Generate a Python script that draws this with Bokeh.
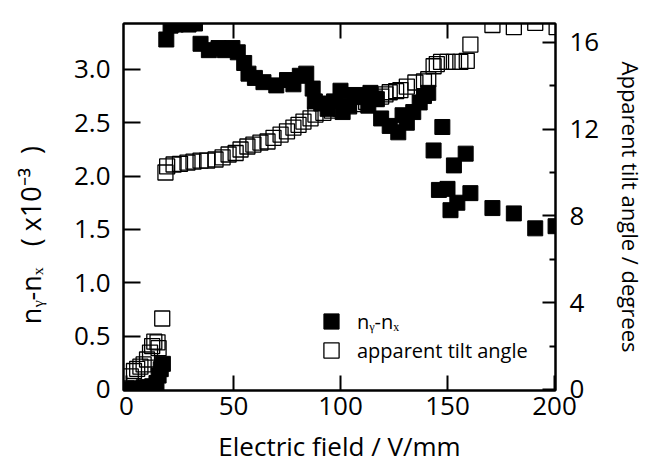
from bokeh.plotting import figure
from bokeh.models import LinearAxis, Range1d, FixedTicker, Legend, LegendItem
from bokeh.embed import file_html
from bokeh.resources import INLINE

# n_y - n_x (x10^-3) vs electric field (V/mm)
field_dn = [0, 2, 4, 6, 8, 10, 12, 14, 15, 16, 17,
            18.6, 20.6, 23, 26.6, 29, 32, 34.6, 38.5, 43, 46, 49.5, 52, 55, 57, 60,
            64, 70, 75, 78, 81, 84, 87, 88, 91, 94, 97, 100, 101, 104, 107, 110,
            113, 114, 117, 119, 123, 127, 129, 131, 134, 137, 139, 141, 143.5,
            147.6, 146, 150, 151.4, 153, 154.6, 158.5, 160.7, 171, 181, 191, 200.5]
dn = [0.0, 0.0, 0.01, 0.0, 0.02, 0.02, 0.03, 0.06, 0.13, 0.19, 0.24,
      3.28, 3.41, 3.42, 3.43, 3.42, 3.43, 3.24, 3.18, 3.2, 3.18, 3.2, 3.16, 3.06, 2.96, 2.92,
      2.88, 2.85, 2.9, 2.86, 2.94, 2.96, 2.82, 2.7, 2.68, 2.63, 2.7, 2.8, 2.6, 2.66, 2.76, 2.74,
      2.66, 2.78, 2.72, 2.54, 2.47, 2.41, 2.57, 2.5, 2.6, 2.69, 2.75, 2.78, 2.24,
      2.46, 1.87, 1.88, 1.68, 2.1, 1.75, 2.21, 1.84, 1.7, 1.65, 1.51, 1.53]

# apparent tilt angle (degrees) vs electric field (V/mm)
field_tilt = [0, 2, 3.5, 5, 6.5, 8, 9.6, 11, 12, 13, 14.5, 15, 16.7,
              18.2, 19, 22, 25, 28.5, 31.3, 34.6, 37.7, 41.6, 44.9, 47.7, 51, 53.3,
              56.5, 59.3, 62.6, 65.9, 68.7, 72, 75, 78, 80.4, 82.7, 86, 88.3, 92, 96,
              100, 104, 108, 112, 116, 119, 121, 123, 126, 128, 131, 135, 139, 141,
              143.5, 145, 147, 150, 153, 156, 159, 160.7, 171, 181, 191, 201]
tilt = [0.05, 0.6, 0.85, 0.95, 1.05, 1.15, 1.38, 1.7, 2.0, 2.2, 2.17, 1.9, 3.27,
        10.0, 10.28, 10.37, 10.4, 10.46, 10.5, 10.55, 10.55, 10.6, 10.7, 10.83, 10.9, 11.06,
        11.2, 11.29, 11.38, 11.43, 11.6, 11.75, 11.9, 12.07, 12.2, 12.35, 12.5, 12.67, 12.75, 12.85,
        12.95, 13.05, 13.15, 13.25, 13.4, 13.5, 13.6, 13.7, 13.75, 13.8, 13.96, 14.15, 14.2, 14.3,
        14.9, 15.0, 15.1, 15.1, 15.1, 15.1, 15.15, 15.9, 16.8, 16.7, 16.9, 16.7]

x_ticks = [0, 50, 100, 150, 200]
x_top_ticks = [50, 100, 150]
y_left_ticks = [0, 0.5, 1.0, 1.5, 2.0, 2.5, 3.0]
y_left_labels = ["0", "0.5", "1.0", "1.5", "2.0", "2.5", "3.0"]
y_right_ticks = [0, 4, 8, 12, 16]
y_right_minor = [2, 6, 10, 14]

FONT = "Open Sans"
NB = "\u00a0"

p = figure(width=650, height=473, output_backend="svg", toolbar_location=None,
           x_range=Range1d(-1.4, 200.47), y_range=Range1d(-0.01, 3.43),
           min_border_left=123, min_border_right=95, min_border_top=23, min_border_bottom=83,
           background_fill_color="white", border_fill_color="white")
p.grid.visible = False
p.outline_line_color = "black"
p.outline_line_width = 2
p.extra_y_ranges = {"tilt": Range1d(-0.05, 16.87)}

def style(ax, tick_in=15):
    ax.axis_line_width = 2
    ax.axis_line_color = "black"
    ax.major_tick_line_width = 2
    ax.major_tick_in = tick_in
    ax.major_tick_out = 0
    ax.minor_tick_in = 0
    ax.minor_tick_out = 0
    ax.major_label_text_font = FONT
    ax.major_label_text_font_size = "26px"
    ax.major_label_text_color = "black"
    ax.axis_label_text_font = FONT
    ax.axis_label_text_font_size = "26px"
    ax.axis_label_text_font_style = "normal"
    ax.axis_label_text_color = "black"

xa = p.xaxis[0]
xa.ticker = FixedTicker(ticks=x_ticks)
style(xa)
xa.major_label_standoff = 6
xa.axis_label = "Electric field / V/mm"
xa.axis_label_standoff = 10

ya = p.yaxis[0]
ya.ticker = FixedTicker(ticks=y_left_ticks)
ya.major_label_overrides = {t: s for t, s in zip(y_left_ticks, y_left_labels)}
style(ya, 17)
ya.major_label_standoff = 13
ya.axis_label = "nᵧ-nₓ" + NB * 3 + "(" + NB + "x10⁻³" + NB * 2 + ")" + NB * 8
ya.axis_label_text_font_size = "27px"
ya.axis_label_standoff = 22

ra = LinearAxis(y_range_name="tilt", ticker=FixedTicker(ticks=y_right_ticks, minor_ticks=y_right_minor))
style(ra, 13)
ra.minor_tick_in = 6
ra.minor_tick_line_width = 2
ra.major_label_standoff = 14
ra.axis_label = "Apparent tilt angle / degrees"
ra.axis_label_text_font_size = "22px"
ra.axis_label_standoff = 14
p.add_layout(ra, "right")

ta = LinearAxis(ticker=FixedTicker(ticks=x_top_ticks))
style(ta, 15)
ta.major_label_overrides = {t: "" for t in x_top_ticks}
ta.major_label_text_font_size = "8px"
ta.major_label_standoff = 0
p.add_layout(ta, "above")

r_open = p.scatter(field_tilt, tilt, y_range_name="tilt", marker="square", size=15,
                   fill_color=None, line_color="black", line_width=1.3)
r_fill = p.scatter(field_dn, dn, marker="square", size=15,
                   fill_color="black", line_color="black", line_width=1)

def make_legend(label, rend, y):
    return Legend(items=[LegendItem(label=label, renderers=[rend])],
                  location=(189, y), orientation="vertical",
                  glyph_width=38, glyph_height=38, label_height=38,
                  label_standoff=7, padding=0, margin=0,
                  border_line_alpha=0, background_fill_alpha=0,
                  label_text_font=FONT, label_text_font_size="20px", label_text_color="black")

p.add_layout(make_legend("nᵧ-nₓ", r_fill, 50))
p.add_layout(make_legend("apparent tilt angle", r_open, 21))

open("out.html", "w").write(file_html(p, INLINE))
